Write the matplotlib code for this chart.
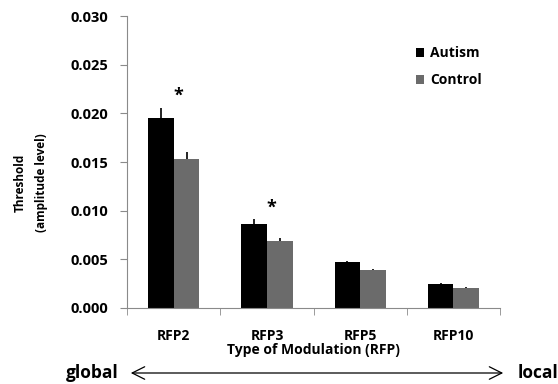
import matplotlib
matplotlib.use("Agg")
import matplotlib.pyplot as plt
from matplotlib.patches import FancyArrowPatch
import numpy as np

plt.rcParams['font.family'] = ['Open Sans', 'DejaVu Sans']
plt.rcParams['font.weight'] = 'bold'

categories = ['RFP2', 'RFP3', 'RFP5', 'RFP10']
autism = [0.0195, 0.0086, 0.0047, 0.0025]
autism_err = [0.0011, 0.0005, 0.0001, 0.0001]
control = [0.0153, 0.0069, 0.0039, 0.0021]
control_err = [0.0007, 0.0003, 0.0001, 0.0001]
significant = [True, True, False, False]

fig = plt.figure(figsize=(5.58, 3.84), dpi=100)
ax = fig.add_axes([0.228, 0.198, 0.668, 0.760])

x = np.arange(len(categories))
w = 0.275
zeros = np.zeros(len(categories))
ax.bar(x - w / 2, autism, w, color='black', label='Autism',
       yerr=[zeros, autism_err], error_kw=dict(ecolor='black', lw=1.2, capsize=0))
ax.bar(x + w / 2, control, w, color='#6b6b6b', label='Control',
       yerr=[zeros, control_err], error_kw=dict(ecolor='black', lw=1.2, capsize=0))

# asterisk over pairs with a significant difference
for i, sig in enumerate(significant):
    if sig:
        ax.text(x[i] + 0.05, autism[i] + autism_err[i] + 0.0012, '*',
                ha='center', va='center', fontsize=13, fontweight='bold')

ax.set_xlim(-0.5, len(categories) - 0.5)
ax.set_ylim(0, 0.030)
yt = np.arange(0, 0.0301, 0.005)
ax.set_yticks(yt)
ax.set_yticklabels([f'{v:.3f}' for v in yt], fontsize=10.5)
ax.set_xticks(x)
ax.set_xticklabels(categories, fontsize=10)
ax.tick_params(axis='x', length=0, pad=15)
ax.set_xticks(np.arange(-0.5, len(categories)), minor=True)
ax.tick_params(axis='x', which='minor', length=5, color='#8a8a8a')
ax.tick_params(axis='y', length=5, color='#8a8a8a', pad=9)

for side in ['top', 'right']:
    ax.spines[side].set_visible(False)
for side in ['left', 'bottom']:
    ax.spines[side].set_color('#8a8a8a')

ax.set_xlabel('Type of Modulation (RFP)', fontsize=10, fontweight='bold', labelpad=0)
fig.text(20 / 558, 1 - 183 / 384, 'Threshold', rotation=90,
         ha='center', va='center', fontsize=8.5, fontweight='bold')
fig.text(42 / 558, 1 - 183 / 384, '(amplitude level)', rotation=90,
         ha='center', va='center', fontsize=8.5, fontweight='bold')

ax.legend(loc='upper left', bbox_to_anchor=(0.76, 0.915), frameon=False,
          fontsize=10, handlelength=0.6, handleheight=0.6, handletextpad=0.4,
          labelspacing=0.9, borderaxespad=0)

# global <-> local axis underneath
ay = 1 - 373 / 384
fig.text(66 / 558, ay, 'global', fontsize=12.5, ha='left', va='center', fontweight='bold')
fig.text(518 / 558, ay, 'local', fontsize=12.5, ha='left', va='center', fontweight='bold')
fig.add_artist(FancyArrowPatch(
    (128 / 558, ay), (506 / 558, ay), transform=fig.transFigure,
    arrowstyle='<->,head_length=9,head_width=4.5', lw=0.9, color='black'))

fig.savefig('out.png', dpi=100)
